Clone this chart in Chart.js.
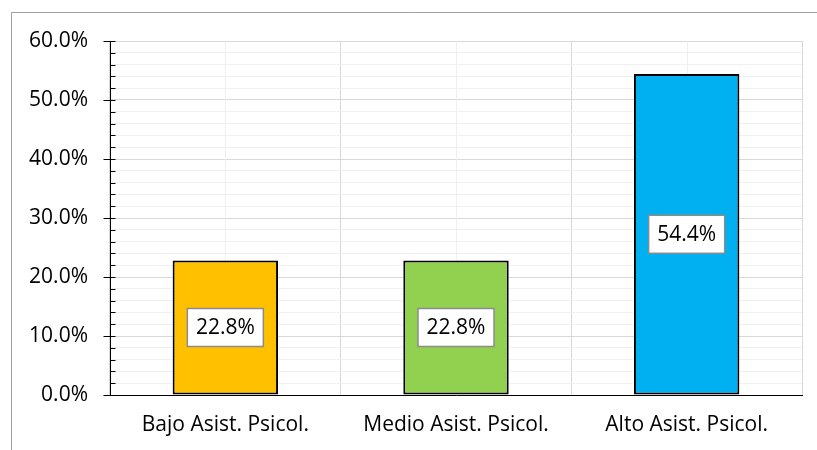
<!DOCTYPE html>
<html>
<head>
<meta charset="utf-8">
<script src="https://cdn.jsdelivr.net/npm/chart.js@4.4.0/dist/chart.umd.min.js"></script>
<style>
  html, body { margin: 0; padding: 0; background: #fff; }
  #wrap { width: 817px; height: 450px; }
</style>
</head>
<body>
<div id="wrap"><canvas id="chart" width="817" height="450"></canvas></div>
<script>
const categories = ['Bajo Asist. Psicol.', 'Medio Asist. Psicol.', 'Alto Asist. Psicol.'];
const values = [22.8, 22.8, 54.4];
const barColors = ['#FFC000', '#92D050', '#00B0F0'];
const yMax = 60;
const yStep = 2;
const yLabelStep = 10;

const FONT = '"Open Sans", "Noto Sans", sans-serif';
const FONT_SIZE = 21;

const isMajor = v => Math.abs(v % yLabelStep) < 1e-6;

// outer frame of the chart box (cut at right and bottom)
const framePlugin = {
  id: 'frame',
  beforeDraw(chart) {
    const ctx = chart.ctx;
    ctx.save();
    ctx.strokeStyle = '#a0a0a0';
    ctx.lineWidth = 1;
    ctx.beginPath();
    ctx.moveTo(11.5, 450);
    ctx.lineTo(11.5, 12.5);
    ctx.lineTo(817, 12.5);
    ctx.stroke();
    ctx.restore();
  }
};

// light vertical lines through the category centres + minor/major tick marks on y axis
const extrasPlugin = {
  id: 'extras',
  beforeDatasetsDraw(chart) {
    const { ctx, chartArea, scales } = chart;
    ctx.save();
    ctx.strokeStyle = '#efefef';
    ctx.lineWidth = 1;
    categories.forEach((c, i) => {
      const x = Math.round(scales.x.getPixelForValue(i)) + 0.5;
      ctx.beginPath();
      ctx.moveTo(x, chartArea.top);
      ctx.lineTo(x, chartArea.bottom);
      ctx.stroke();
    });
    ctx.strokeStyle = '#000';
    const left = Math.round(chartArea.left) + 0.5;
    scales.y.ticks.forEach(t => {
      const y = Math.round(scales.y.getPixelForValue(t.value)) + 0.5;
      ctx.beginPath();
      ctx.moveTo(isMajor(t.value) ? left - 7 : left, y);
      ctx.lineTo(left + 5, y);
      ctx.stroke();
    });
    ctx.restore();
  }
};

// boxed value labels in the middle of each bar
const boxLabelPlugin = {
  id: 'boxLabels',
  afterDatasetsDraw(chart) {
    const ctx = chart.ctx;
    const meta = chart.getDatasetMeta(0);
    ctx.save();
    ctx.font = FONT_SIZE + 'px ' + FONT;
    ctx.textAlign = 'center';
    ctx.textBaseline = 'middle';
    meta.data.forEach((bar, i) => {
      const text = values[i].toFixed(1) + '%';
      const cx = bar.x;
      const cy = (bar.y + bar.base) / 2;
      const w = 76;
      const h = 38;
      ctx.fillStyle = '#fff';
      ctx.fillRect(cx - w / 2, cy - h / 2, w, h);
      ctx.strokeStyle = '#8c8c8c';
      ctx.lineWidth = 1.5;
      ctx.strokeRect(cx - w / 2, cy - h / 2, w, h);
      ctx.fillStyle = '#000';
      ctx.fillText(text, cx, cy + 1);
    });
    ctx.restore();
  }
};

new Chart(document.getElementById('chart'), {
  type: 'bar',
  data: {
    labels: categories,
    datasets: [{
      data: values,
      backgroundColor: barColors,
      borderColor: '#000',
      borderWidth: 2,
      borderSkipped: false,
      categoryPercentage: 1,
      barPercentage: 0.457
    }]
  },
  options: {
    responsive: false,
    animation: false,
    layout: {
      padding: { top: 41, right: 15, left: 0, bottom: 0 }
    },
    plugins: {
      legend: { display: false },
      tooltip: { enabled: false }
    },
    scales: {
      x: {
        grid: {
          offset: true,
          color: '#d9d9d9',
          drawTicks: false
        },
        border: { color: '#000', width: 1 },
        ticks: {
          color: '#000',
          padding: 17,
          font: { family: FONT, size: FONT_SIZE }
        },
        afterFit(scale) { scale.height = 55; }
      },
      y: {
        min: 0,
        max: yMax,
        grid: {
          color: ctx => isMajor(ctx.tick.value) ? '#d9d9d9' : '#f0f0f0',
          tickLength: 7,
          tickColor: 'rgba(0,0,0,0)'
        },
        border: { color: '#000', width: 1 },
        ticks: {
          stepSize: yStep,
          autoSkip: false,
          padding: 15,
          color: '#000',
          font: { family: FONT, size: FONT_SIZE },
          callback: v => isMajor(v) ? v.toFixed(1) + '%' : ''
        },
        afterFit(scale) { scale.width = 110; }
      }
    }
  },
  plugins: [framePlugin, extrasPlugin, boxLabelPlugin]
});
</script>
</body>
</html>
